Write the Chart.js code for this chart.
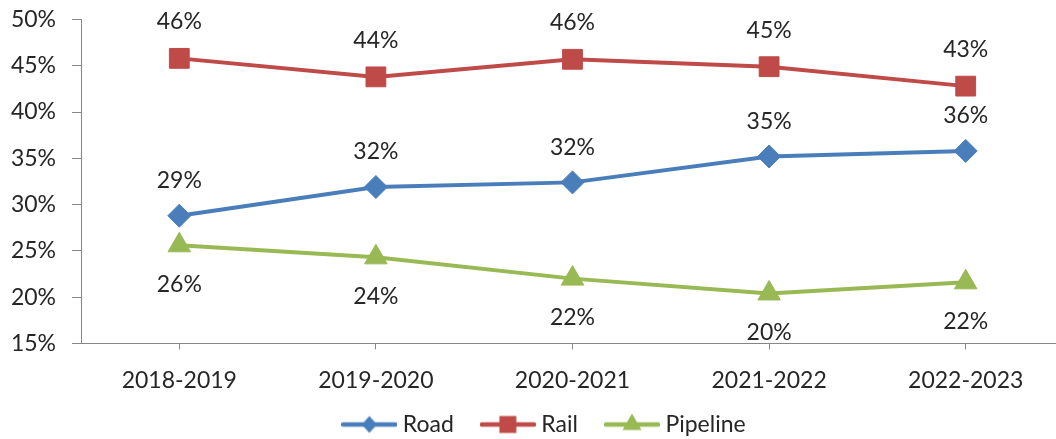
<!DOCTYPE html>
<html><head><meta charset="utf-8">
<script src="https://cdn.jsdelivr.net/npm/chart.js@4.4.0/dist/chart.umd.min.js"></script>
<style>
html,body{margin:0;padding:0;overflow:hidden;background:#fff}
canvas{display:block}
</style></head>
<body><canvas id="c" width="1064" height="476"></canvas>
<script>
const categories = ['2018-2019', '2019-2020', '2020-2021', '2021-2022', '2022-2023'];
const roadValues = [28.8, 31.9, 32.4, 35.2, 35.8];
const railValues = [45.8, 43.8, 45.7, 44.9, 42.8];
const pipelineValues = [25.6, 24.3, 22.0, 20.4, 21.6];
const yMin = 15, yMax = 50, yStep = 5;

const FONT = 'Lato';
const FS = 23;
const TEXT = '#262626';
const AXIS = '#868686';
const BLUE = '#4A7EBB', RED = '#BE4B48', GREEN = '#98B954';

function drawMarker(ctx, style, x, y, r, color) {
  ctx.fillStyle = color;
  ctx.beginPath();
  if (style === 'rectRot') {
    ctx.moveTo(x, y - r); ctx.lineTo(x + r * 0.9, y); ctx.lineTo(x, y + r); ctx.lineTo(x - r * 0.9, y);
  } else if (style === 'rect') {
    const s = r * Math.SQRT1_2;
    ctx.rect(x - s, y - s, 2 * s, 2 * s);
  } else {
    ctx.moveTo(x, y - r); ctx.lineTo(x + r * 0.866, y + r * 0.5); ctx.lineTo(x - r * 0.866, y + r * 0.5);
  }
  ctx.closePath();
  ctx.fill();
}
function legendIcon(color, style, r) {
  const c = document.createElement('canvas');
  c.width = 56; c.height = 22;
  const ctx = c.getContext('2d');
  ctx.strokeStyle = color; ctx.lineWidth = 4.5; ctx.lineCap = 'round';
  ctx.beginPath(); ctx.moveTo(2, 11); ctx.lineTo(54, 11); ctx.stroke();
  drawMarker(ctx, style, 28, 11, r, color);
  return c;
}

const labelPlugin = {
  id: 'pointLabels',
  afterLayout(chart) {
    const lg = chart.legend;
    if (lg) { lg.top -= 30; lg.bottom -= 30; lg.left += 14.5; lg.right += 14.5; }
  },
  afterDatasetsDraw(chart) {
    const ctx = chart.ctx;
    ctx.save();
    ctx.font = FS + 'px ' + FONT;
    ctx.fillStyle = TEXT;
    ctx.textAlign = 'center';
    ctx.textBaseline = 'middle';
    chart.data.datasets.forEach((ds, i) => {
      const meta = chart.getDatasetMeta(i);
      meta.data.forEach((pt, j) => {
        ctx.fillText(Math.round(ds.data[j]) + '%', pt.x, pt.y + ds.labelOffset);
      });
    });
    ctx.restore();
  }
};

const mk = (label, data, color, style, radius, offset, icon) => ({
  label, data,
  borderColor: color, backgroundColor: color,
  pointBackgroundColor: color, pointBorderColor: color,
  borderWidth: 4, pointStyle: style, pointRadius: radius, pointHoverRadius: radius,
  pointBorderWidth: 1, tension: 0, labelOffset: offset, legendIcon: icon
});

new Chart(document.getElementById('c'), {
  type: 'line',
  data: {
    labels: categories,
    datasets: [
      mk('Road', roadValues, BLUE, 'rectRot', 11.5, -35, legendIcon(BLUE, 'rectRot', 8.5)),
      mk('Rail', railValues, RED, 'rect', 14, -36.5, legendIcon(RED, 'rect', 12)),
      mk('Pipeline', pipelineValues, GREEN, 'triangle', 13, 39, legendIcon(GREEN, 'triangle', 11))
    ]
  },
  options: {
    responsive: false, maintainAspectRatio: false, animation: false, devicePixelRatio: 1,
    layout: { autoPadding: false, padding: { top: 19.5, left: 0, right: 0, bottom: 0 } },
    plugins: {
      tooltip: { enabled: false },
      legend: {
        position: 'bottom',
        labels: {
          usePointStyle: true, pointStyleWidth: 44, padding: 32,
          color: TEXT, font: { family: FONT, size: FS },
          generateLabels(chart) {
            return chart.data.datasets.map((ds, i) => ({
              text: ds.label, pointStyle: ds.legendIcon, fillStyle: ds.borderColor,
              strokeStyle: ds.borderColor, lineWidth: 0, hidden: false, datasetIndex: i, fontColor: TEXT
            }));
          }
        }
      }
    },
    scales: {
      x: {
        offset: true,
        grid: { offset: false, drawOnChartArea: false, drawTicks: true, tickLength: 6, color: AXIS },
        border: { color: AXIS, width: 1 },
        ticks: { color: TEXT, font: { family: FONT, size: FS }, padding: 17, maxRotation: 0 },
        afterFit(scale) { scale.paddingLeft = 0; scale.paddingRight = 0; }
      },
      y: {
        min: yMin, max: yMax,
        grid: { drawOnChartArea: false, drawTicks: true, tickLength: 9, color: AXIS },
        border: { color: AXIS, width: 1 },
        ticks: { stepSize: yStep, color: TEXT, font: { family: FONT, size: FS }, padding: 16,
                 callback: v => v + '%' },
        afterFit(scale) { scale.width = 81; scale.paddingTop = 0; scale.paddingBottom = 0; }
      }
    }
  },
  plugins: [labelPlugin]
});
</script>
</body></html>
